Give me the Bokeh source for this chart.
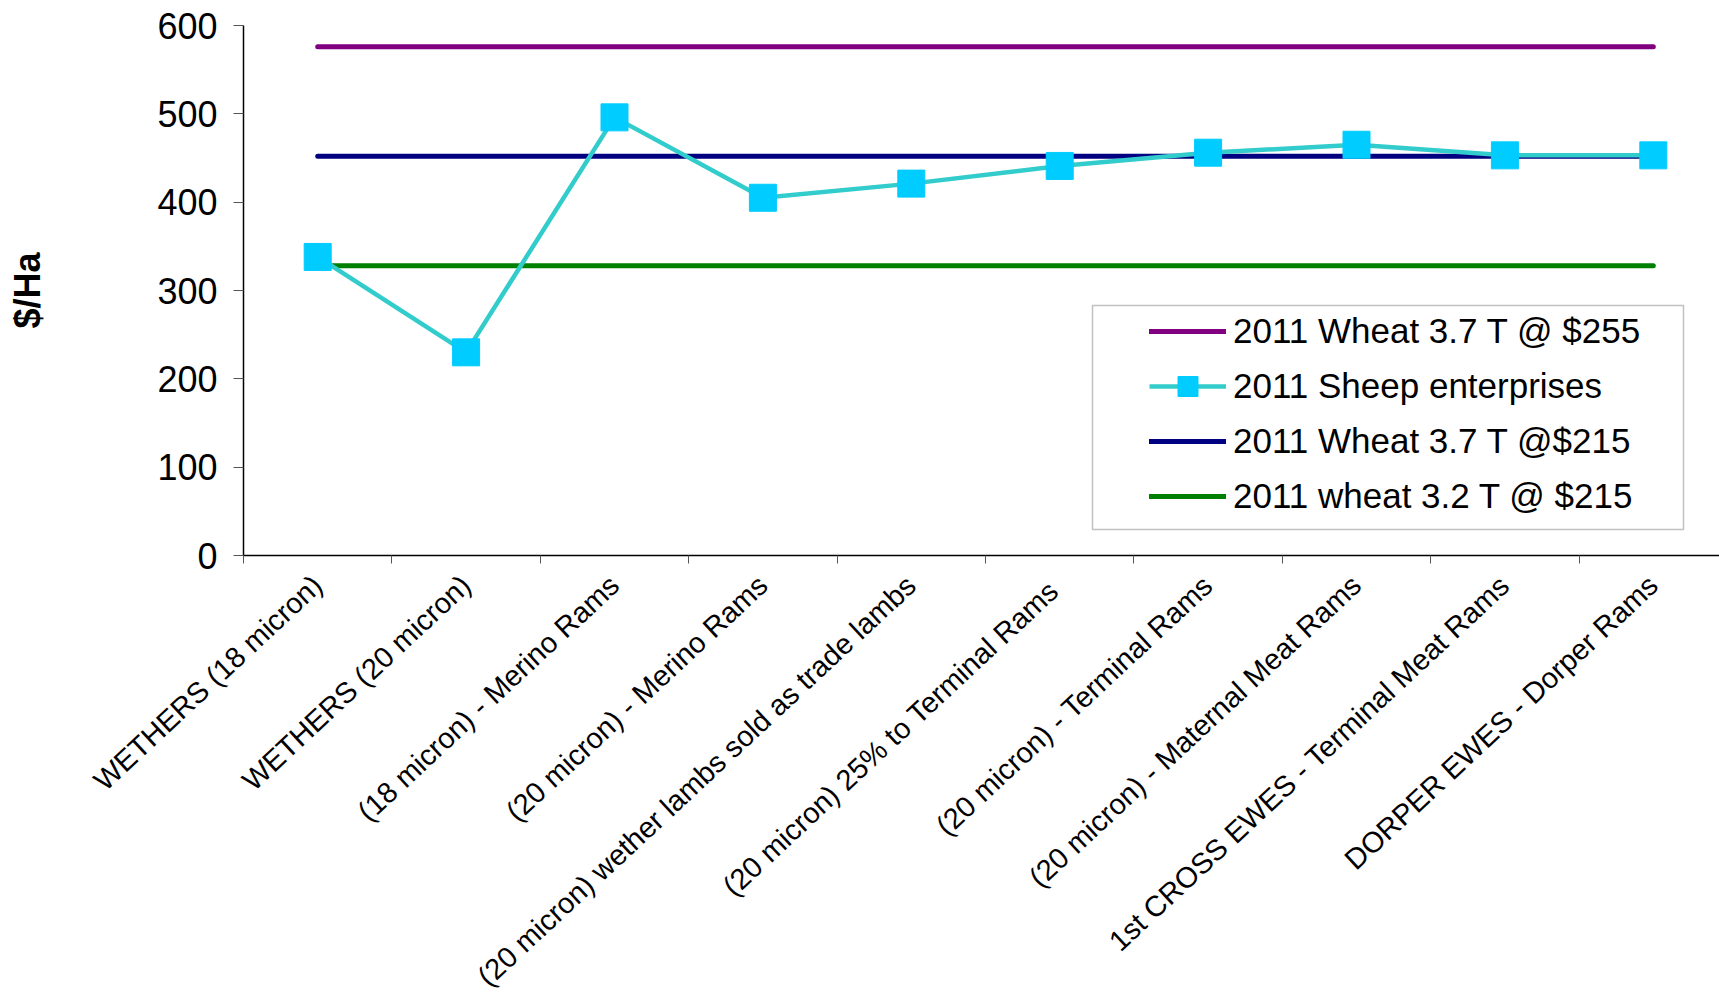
import math
from bokeh.plotting import figure
from bokeh.models import Range1d, FixedTicker, Legend, LegendItem, BoxAnnotation
from bokeh.embed import file_html
from bokeh.resources import INLINE

# ---- data ----
categories = [
    "WETHERS (18 micron)",
    "WETHERS (20 micron)",
    "(18 micron) - Merino Rams",
    "(20 micron) - Merino Rams",
    "(20 micron) wether lambs sold as trade lambs",
    "(20 micron)  25% to Terminal Rams",
    "(20 micron) - Terminal Rams",
    "(20 micron) - Maternal Meat Rams",
    "1st CROSS EWES - Terminal Meat Rams",
    "DORPER EWES - Dorper Rams",
]
wheat_37_255 = [576, 576, 576, 576, 576, 576, 576, 576, 576, 576]
sheep = [338, 230, 496, 405, 421, 441, 456, 465, 453, 453]
wheat_37_215 = [452, 452, 452, 452, 452, 452, 452, 452, 452, 452]
wheat_32_215 = [328, 328, 328, 328, 328, 328, 328, 328, 328, 328]
y_ticks = [0, 100, 200, 300, 400, 500, 600]

series_labels = [
    "2011 Wheat 3.7 T @ $255",
    "2011 Sheep enterprises",
    "2011 Wheat 3.7 T @$215",
    "2011 wheat 3.2 T @ $215",
]

FONT = "Liberation Sans"

xs = list(range(1, len(categories) + 1))

p = figure(
    width=1719, height=1008,
    output_backend="svg", toolbar_location=None,
    x_range=Range1d(0.5, 10.446), y_range=Range1d(0, 600),
    min_border_left=243, min_border_right=0,
    min_border_top=25, min_border_bottom=453,
)
p.outline_line_color = None
p.grid.visible = False
p.background_fill_color = "white"
p.border_fill_color = "white"

r1 = p.line(xs, wheat_37_255, line_color="#800080", line_width=5, line_cap="round")
r3 = p.line(xs, wheat_37_215, line_color="#000080", line_width=5, line_cap="round")
r4 = p.line(xs, wheat_32_215, line_color="#008000", line_width=5, line_cap="round")
r2 = p.line(xs, sheep, line_color="#33CCCC", line_width=4.5)
r2m = p.scatter(xs, sheep, marker="square", size=27,
                fill_color="#00CCFF", line_color="#00CCFF")

# x axis
xax = p.xaxis[0]
xax.ticker = FixedTicker(ticks=xs, minor_ticks=[x - 0.5 for x in xs] + [xs[-1] + 0.5])
xax.major_label_overrides = {x: c for x, c in zip(xs, categories)}
xax.major_tick_line_color = None
xax.minor_tick_line_color = "#555555"
xax.minor_tick_out = 8
xax.minor_tick_in = 0
xax.axis_line_color = "black"
xax.axis_line_width = 1.5
xax.major_label_orientation = math.radians(43)
xax.major_label_text_font = FONT
xax.major_label_text_font_size = "29px"
xax.major_label_text_color = "black"
xax.major_label_standoff = 17

# y axis
yax = p.yaxis[0]
yax.ticker = FixedTicker(ticks=y_ticks)
yax.minor_tick_line_color = None
yax.major_tick_out = 10
yax.major_tick_in = 0
yax.major_tick_line_color = "#555555"
yax.axis_line_color = "black"
yax.axis_line_width = 1.5
yax.major_label_text_font = FONT
yax.major_label_text_font_size = "36px"
yax.major_label_text_color = "black"
yax.major_label_standoff = 16
yax.axis_label = "$/Ha"
yax.axis_label_text_font = FONT
yax.axis_label_text_font_size = "36px"
yax.axis_label_text_font_style = "bold"
yax.axis_label_text_color = "black"
yax.axis_label_standoff = 106

# legend frame
box = BoxAnnotation(left=1092, right=1683, top=305, bottom=529,
                    left_units="canvas", right_units="canvas",
                    top_units="canvas", bottom_units="canvas",
                    fill_alpha=0, line_color="#333333", line_width=1.5)
p.add_layout(box)

legend = Legend(
    items=[
        LegendItem(label=series_labels[0], renderers=[r1]),
        LegendItem(label=series_labels[1], renderers=[r2, r2m]),
        LegendItem(label=series_labels[2], renderers=[r3]),
        LegendItem(label=series_labels[3], renderers=[r4]),
    ],
    location=(906, 34),
    padding=0, margin=0, spacing=5,
    glyph_width=77, glyph_height=50, label_height=50,
    label_standoff=7,
    label_text_font=FONT, label_text_font_size="35px", label_text_color="black",
    border_line_color=None, background_fill_alpha=0,
)
p.add_layout(legend)

open("out.html", "w").write(file_html(p, INLINE))
